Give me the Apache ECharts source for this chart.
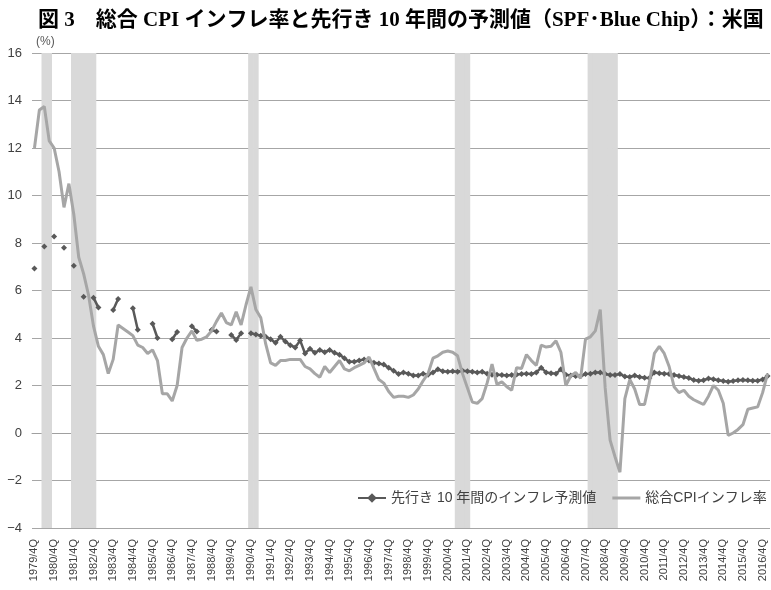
<!DOCTYPE html>
<html><head><meta charset="utf-8">
<script src="https://cdn.jsdelivr.net/npm/echarts@6/dist/echarts.min.js"></script>
<style>html,body{margin:0;padding:0;background:#fff}#c{width:771px;height:590px}</style>
</head><body><div id="c"></div>
<script>
// Quarter categories 1979/4Q .. 2017/1Q
const startYear = 1979, startQuarter = 4, quarterCount = 150;
const categories = [];
for (let i = 0; i < quarterCount; i++) {
  const k = startQuarter - 1 + i;
  categories.push((startYear + Math.floor(k / 4)) + '/' + (k % 4 + 1) + 'Q');
}

// 総合CPIインフレ率 (%)
const cpiInflation = [
  12.0, 13.6, 13.75, 12.3, 12.0, 11.0, 9.5, 10.5, 9.2, 7.4,
  6.7, 5.8, 4.5, 3.65, 3.3, 2.5, 3.1, 4.55, 4.4, 4.25,
  4.1, 3.7, 3.6, 3.35, 3.5, 3.05, 1.65, 1.65, 1.35, 2.0,
  3.6, 4.0, 4.3, 3.9, 3.95, 4.05, 4.3, 4.7, 5.05, 4.65,
  4.55, 5.1, 4.55, 5.4, 6.15, 5.2, 4.85, 3.75, 2.95, 2.85,
  3.05, 3.05, 3.1, 3.1, 3.1, 2.8, 2.7, 2.5, 2.35, 2.8,
  2.55, 2.8, 3.05, 2.7, 2.62, 2.75, 2.85, 2.95, 3.2, 2.72,
  2.25, 2.1, 1.75, 1.5, 1.55, 1.55, 1.5, 1.6, 1.85, 2.2,
  2.5, 3.15, 3.25, 3.4, 3.45, 3.4, 3.25, 2.5, 1.9, 1.3,
  1.25, 1.45, 2.1, 2.9, 2.05, 2.15, 1.95, 1.8, 2.75, 2.72,
  3.3, 3.05, 2.85, 3.7, 3.62, 3.65, 3.88, 3.4, 2.0, 2.4,
  2.55, 2.3, 3.95, 4.05, 4.3, 5.2, 1.9, -0.3, -1.0, -1.65,
  1.45, 2.25, 1.85, 1.2, 1.2, 2.15, 3.35, 3.65, 3.35, 2.8,
  1.95, 1.7, 1.8, 1.55, 1.4, 1.3, 1.2, 1.55, 2.0, 1.8,
  1.25, -0.1, 0.0, 0.15, 0.35, 1.0, 1.05, 1.1, 1.7, 2.5
];

// 先行き10年間のインフレ予測値 (%) — null where no survey
const forecast10y = [
  6.93, null, 7.85, null, 8.27, null, 7.8, null, 7.04, null,
  5.74, null, 5.7, 5.28, null, null, 5.18, 5.64, null, null,
  5.25, 4.35, null, null, 4.6, 4.0, null, null, 3.95, 4.25,
  null, null, 4.5, 4.27, null, null, 4.34, 4.27, null, null,
  4.13, 3.92, 4.2, null, 4.2, 4.15, 4.1, 4.05, 3.95, 3.8,
  4.05, 3.85, 3.7, 3.6, 3.9, 3.35, 3.55, 3.38, 3.5, 3.4,
  3.5, 3.38, 3.3, 3.15, 3.0, 3.0, 3.05, 3.1, 3.05, 2.96,
  2.93, 2.88, 2.75, 2.62, 2.48, 2.55, 2.5, 2.42, 2.42, 2.5,
  2.45, 2.55, 2.68, 2.6, 2.58, 2.6, 2.58, 2.62, 2.6, 2.58,
  2.55, 2.58, 2.5, 2.45, 2.45, 2.44, 2.42, 2.44, 2.46, 2.48,
  2.5, 2.48, 2.55, 2.75, 2.55, 2.52, 2.5, 2.68, 2.45, 2.42,
  2.4, 2.4, 2.48, 2.5, 2.55, 2.55, 2.48, 2.44, 2.44, 2.48,
  2.38, 2.36, 2.42, 2.36, 2.33, 2.32, 2.55, 2.52, 2.5, 2.48,
  2.44, 2.4, 2.36, 2.32, 2.23, 2.2, 2.22, 2.3, 2.26, 2.22,
  2.19, 2.16, 2.19, 2.22, 2.23, 2.22, 2.2, 2.2, 2.25, 2.4
];

// 景気後退期 (shaded quarters)
const recessionQuarters = [
  '1980/2Q', '1980/3Q',
  '1981/4Q', '1982/1Q', '1982/2Q', '1982/3Q', '1982/4Q',
  '1990/4Q', '1991/1Q',
  '2001/2Q', '2001/3Q', '2001/4Q',
  '2008/1Q', '2008/2Q', '2008/3Q', '2008/4Q', '2009/1Q', '2009/2Q'
];

const yTicks = { min: -4, max: 16, step: 2 };
const titleText = '図 3　総合 CPI インフレ率と先行き 10 年間の予測値（SPF･Blue Chip）：米国';
const nameForecast = '先行き 10 年間のインフレ予測値';
const nameCpi = '総合CPIインフレ率';

const chart = echarts.init(document.getElementById('c'), null, { renderer: 'canvas' });
chart.setOption({
  animation: false,
  backgroundColor: '#ffffff',
  title: {
    text: titleText,
    left: 33, top: 5,
    textStyle: { fontFamily: "'Liberation Serif', 'Noto Sans CJK JP'", fontWeight: 'bold', fontSize: 21, color: '#000' }
  },
  graphic: [{
    type: 'text', left: 36, top: 36,
    style: { text: '(%)', fontSize: 12, fill: '#595959', fontFamily: "'Liberation Sans', Arial" }
  }],
  legend: {
    data: [
      { name: nameForecast },
      { name: nameCpi, icon: 'path://M0,0 L28,0 L28,3 L0,3 Z' }
    ],
    left: 352, top: 486, width: 419,
    itemWidth: 28, itemHeight: 12, itemGap: 16,
    textStyle: { fontSize: 14, color: '#404040', fontFamily: "'Liberation Sans', 'Noto Sans CJK JP'" }
  },
  grid: { left: 32, right: 1, top: 53, bottom: 62, containLabel: false },
  xAxis: {
    type: 'category',
    data: categories,
    boundaryGap: true,
    axisLine: { show: true, lineStyle: { color: '#a0a0a0', width: 1 } },
    axisTick: { show: false },
    axisLabel: {
      rotate: 90, fontSize: 11, color: '#404040', margin: 11,
      fontFamily: "'Liberation Sans', Arial",
      interval: (i) => i % 4 === 0
    }
  },
  yAxis: [{
    type: 'value',
    min: yTicks.min, max: yTicks.max, interval: yTicks.step,
    axisLine: { show: false }, axisTick: { show: false },
    splitLine: { lineStyle: { color: '#a6a6a6', width: 1 } },
    axisLabel: {
      fontSize: 13, color: '#404040', margin: 10,
      fontFamily: "'Liberation Sans', Arial",
      formatter: (v) => v < 0 ? '\u2212' + Math.abs(v) : String(v)
    }
  }, {
    type: 'value', min: 0, max: 1, show: false
  }],
  series: [{
    name: 'recession',
    type: 'bar',
    yAxisIndex: 1,
    data: categories.map(c => recessionQuarters.includes(c) ? 1 : null),
    barWidth: 5.6,
    barCategoryGap: '0%',
    itemStyle: { color: '#d9d9d9' },
    silent: true,
    z: 1
  }, {
    name: nameForecast,
    type: 'line',
    data: forecast10y,
    connectNulls: false,
    symbol: 'diamond',
    symbolSize: 6,
    showSymbol: true,
    showAllSymbol: true,
    lineStyle: { color: '#595959', width: 2.5 },
    itemStyle: { color: '#595959' },
    z: 3
  }, {
    name: nameCpi,
    type: 'line',
    data: cpiInflation,
    showSymbol: false,
    symbol: 'none',
    lineStyle: { color: '#a6a6a6', width: 3 },
    itemStyle: { color: '#a6a6a6' },
    z: 4
  }]
});
</script>
</body></html>
